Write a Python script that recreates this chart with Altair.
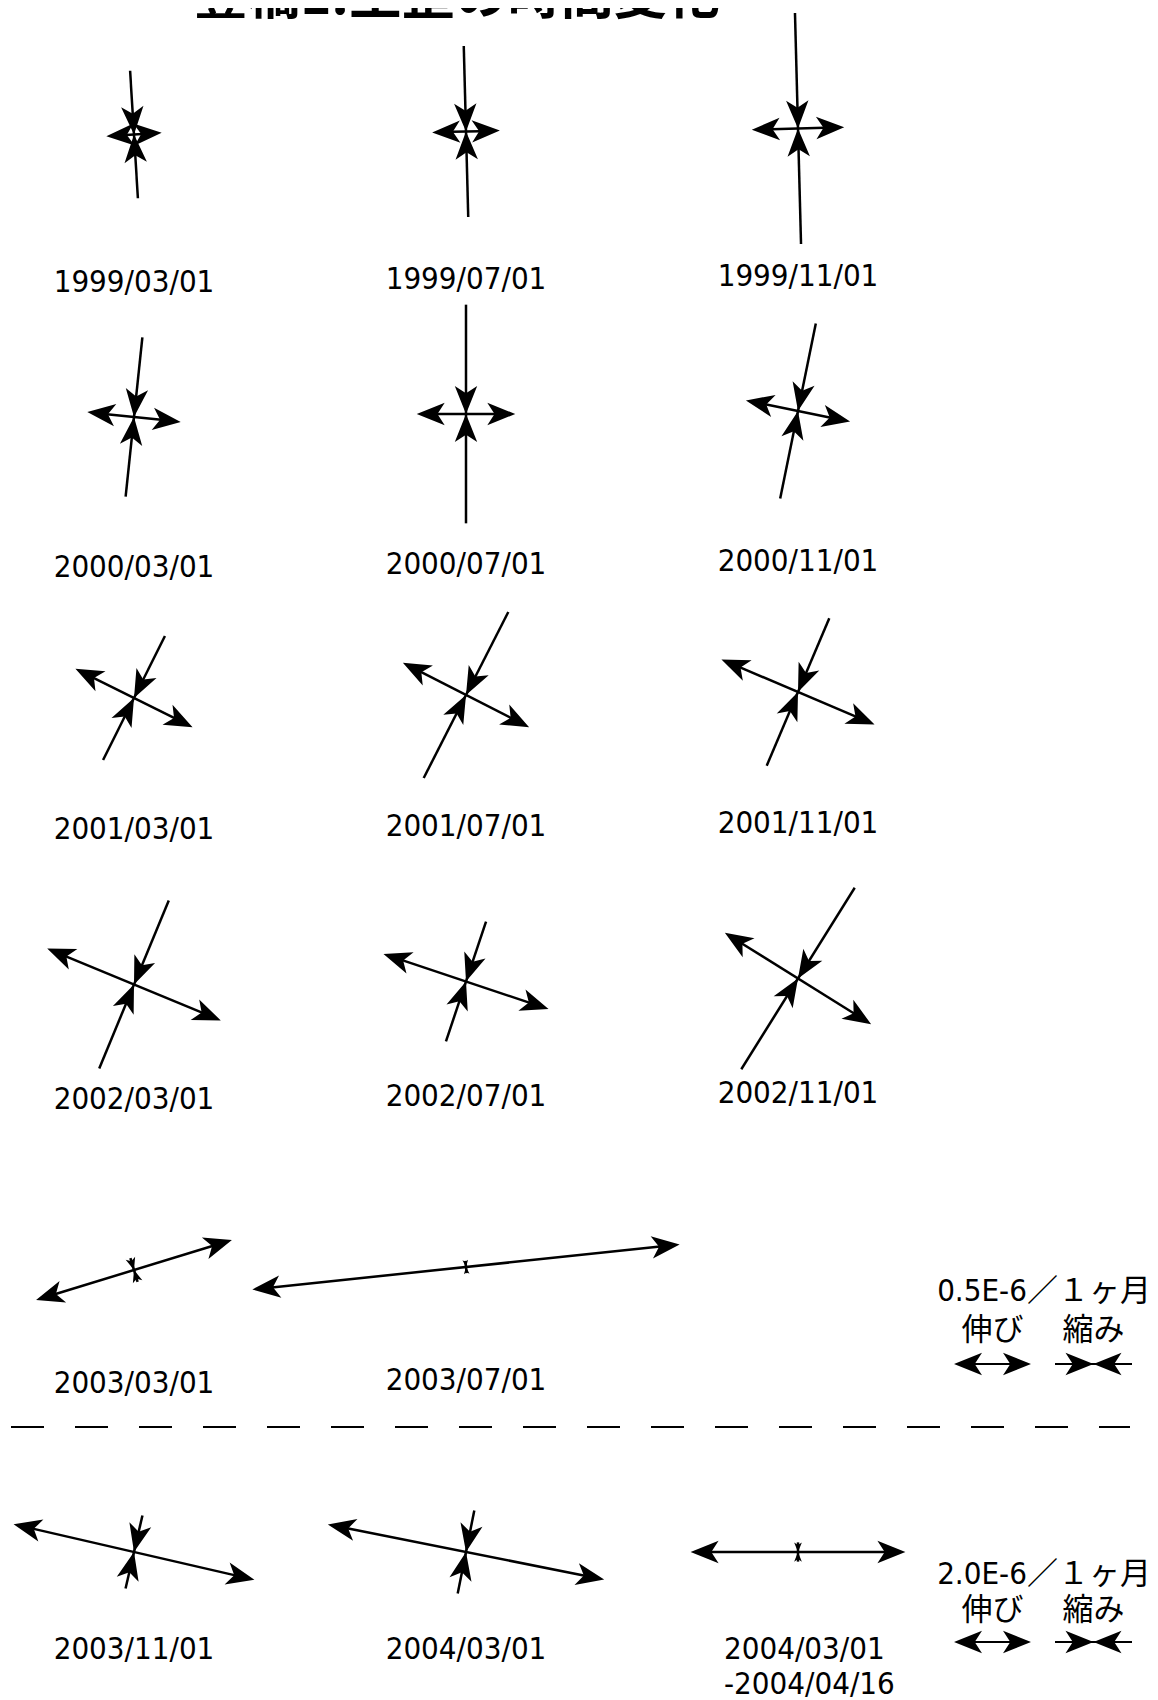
import altair as alt
import numpy as np
import pandas as pd

# ---------------- data ----------------
TITLE = "豊橋1:主歪の時間変化"
DATES = ["1999/03/01", "1999/07/01", "1999/11/01",
         "2000/03/01", "2000/07/01", "2000/11/01",
         "2001/03/01", "2001/07/01", "2001/11/01",
         "2002/03/01", "2002/07/01", "2002/11/01",
         "2003/03/01", "2003/07/01",
         "2003/11/01", "2004/03/01", "2004/03/01\n-2004/04/16"]
ROW = [0, 0, 0, 1, 1, 1, 2, 2, 2, 3, 3, 3, 4, 4, 5, 5, 5]
COL = [0, 1, 2, 0, 1, 2, 0, 1, 2, 0, 1, 2, 0, 1, 0, 1, 2]
# principal strain rates, 1E-6 per month
EXTENSION = [0.36, 0.44, 0.60, 0.61, 0.64, 0.69, 0.85, 0.92, 1.08, 1.22, 1.13, 1.12,
             1.33, 2.79, 6.42, 7.32, 5.58]
CONTRACTION = [0.83, 1.11, 1.50, 1.04, 1.42, 1.16, 0.90, 1.21, 1.04, 1.18, 0.82, 1.39,
               0.16, 0.08, 1.95, 2.20, 0.50]
# direction of the extension axis, degrees counter-clockwise from east
EXT_DIR = [3.5, 1.5, 1.5, -6.0, 0.0, -11.5, -26.5, -27.0, -23.0, -22.5, -18.5, -32.0,
           17.0, 6.0, -13.0, -11.3, 0.0]
SCALE_SET = [0] * 14 + [1] * 3          # which legend scale each glyph uses
LEGEND_VALUES = [0.5, 2.0]              # 1E-6 per month
LEGEND_TEXT = ["0.5E-6／１ヶ月", "2.0E-6／１ヶ月"]
LEGEND_WORDS = ["伸び", "縮み"]

# ---------------- layout / style ----------------
PX_PER_UNIT = [154.0, 38.5]
COL_X = [134, 466, 798]
ROW_Y = [131.5, 414, 695, 981.5, 1267, 1552]
LABEL_Y = [280, 565, 827, 1097, 1381, 1650]
LINE_GAP = 35
SKEW = [3, 0, -3]
HEAD = 28.0
LEG_X = [992.5, 1093.5]
LEG_ARROW_Y = [1364, 1642]
LEG_WORD_Y = [1331, 1611]
LEG_TEXT_Y = [1292, 1575]
LEG_TEXT_X = 1044

lines, heads = [], []


def add_axis(cx, cy, length, phi_deg, kind, w=2.5):
    phi = np.radians(phi_deg)
    ux, uy = np.cos(phi), -np.sin(phi)
    h = length / 2.0
    s = float(np.clip(h, 7.0, HEAD))
    size = 4 * s * s
    if kind == "ext":
        cut = min(s * 0.7, h)
        lines.append(dict(x=cx - ux * (h - cut), y=cy - uy * (h - cut),
                          x2=cx + ux * (h - cut), y2=cy + uy * (h - cut), w=w))
        heads.append(dict(x=cx + ux * h, y=cy + uy * h, angle=(-phi_deg) % 360, size=size))
        heads.append(dict(x=cx - ux * h, y=cy - uy * h, angle=(180 - phi_deg) % 360, size=size))
    else:
        lines.append(dict(x=cx - ux * h, y=cy - uy * h, x2=cx + ux * h, y2=cy + uy * h, w=w))
        heads.append(dict(x=cx, y=cy, angle=(180 - phi_deg) % 360, size=size))
        heads.append(dict(x=cx, y=cy, angle=(-phi_deg) % 360, size=size))


labels, multi = [], []
for i, d in enumerate(DATES):
    r, c = ROW[i], COL[i]
    sk = SKEW[c] if r < 5 else 0
    cx, cy = COL_X[c], ROW_Y[r] + sk
    k = PX_PER_UNIT[SCALE_SET[i]]
    add_axis(cx, cy, EXTENSION[i] * k, EXT_DIR[i], "ext")
    add_axis(cx, cy, CONTRACTION[i] * k, EXT_DIR[i] + 90, "con")
    if "\n" in d:
        for j, part in enumerate(d.split("\n")):
            multi.append(dict(x=724, y=LABEL_Y[r] + j * LINE_GAP, t=part))
    else:
        labels.append(dict(x=cx, y=LABEL_Y[r] + sk, t=d))

legend_text = []
for j, v in enumerate(LEGEND_VALUES):
    L = v * PX_PER_UNIT[j]
    add_axis(LEG_X[0], LEG_ARROW_Y[j], L, 0, "ext", w=2.2)
    add_axis(LEG_X[1], LEG_ARROW_Y[j], L, 0, "con", w=2.2)
    legend_text.append(dict(x=LEG_TEXT_X, y=LEG_TEXT_Y[j], t=LEGEND_TEXT[j]))
    legend_text.append(dict(x=LEG_X[0], y=LEG_WORD_Y[j], t=LEGEND_WORDS[0]))
    legend_text.append(dict(x=LEG_X[1], y=LEG_WORD_Y[j], t=LEGEND_WORDS[1]))

lines_df = pd.DataFrame(lines)
heads_df = pd.DataFrame(heads)
labels_df = pd.DataFrame(labels)
multi_df = pd.DataFrame(multi)
legend_df = pd.DataFrame(legend_text)
title_df = pd.DataFrame([dict(x=457, y=14, t=TITLE)])
dash_df = pd.DataFrame([dict(x=11, x2=1130, y=1427)])

# plot area spans page pixels x 8..1150, y 8..1700
XS = alt.Scale(domain=[8, 1150], nice=False, zero=False)
YS = alt.Scale(domain=[8, 1700], nice=False, zero=False, reverse=True)


def X(f="x"):
    return alt.X(f"{f}:Q", scale=XS, axis=None)


def Y(f="y"):
    return alt.Y(f"{f}:Q", scale=YS, axis=None)


rules = alt.Chart(lines_df).mark_rule(color="black", strokeCap="butt").encode(
    x=X(), y=Y(), x2="x2:Q", y2="y2:Q",
    strokeWidth=alt.StrokeWidth("w:Q", scale=None, legend=None))

ARROW = "M0,0 L-1,-0.4 L-0.74,0 L-1,0.4 Z"
arrows = alt.Chart(heads_df).mark_point(
    shape=ARROW, filled=True, color="black", opacity=1, strokeWidth=0).encode(
    x=X(), y=Y(),
    angle=alt.Angle("angle:Q", scale=None),
    size=alt.Size("size:Q", scale=None, legend=None))

dash = alt.Chart(dash_df).mark_rule(color="black", strokeWidth=2, strokeDash=[33, 31]).encode(
    x=X(), x2="x2:Q", y=Y())

DIGIT_FONT = "DejaVu Sans Condensed"
date_text = alt.Chart(labels_df).mark_text(
    font=DIGIT_FONT, fontSize=31, align="center", baseline="middle", color="black").encode(
    x=X(), y=Y(), text="t:N")

multi_text = alt.Chart(multi_df).mark_text(
    font=DIGIT_FONT, fontSize=31, align="left", baseline="middle", color="black").encode(
    x=X(), y=Y(), text="t:N")

leg_text = alt.Chart(legend_df).mark_text(
    font="'DejaVu Sans Condensed', 'Noto Sans CJK JP'", fontSize=31, align="center",
    baseline="middle", color="black").encode(x=X(), y=Y(), text="t:N")

title = alt.Chart(title_df).mark_text(
    font="Noto Sans CJK JP", fontSize=53, fontWeight="bold", align="center",
    baseline="alphabetic", color="black").encode(x=X(), y=Y(), text="t:N")

chart = alt.layer(rules, arrows, dash, date_text, multi_text, leg_text, title).properties(
    width=1142, height=1692, padding=0, autosize=alt.AutoSizeParams(type="none"),
    background="white",
).configure_view(stroke=None)

chart.save("out.html", embed_options={"renderer": "svg", "actions": False})
